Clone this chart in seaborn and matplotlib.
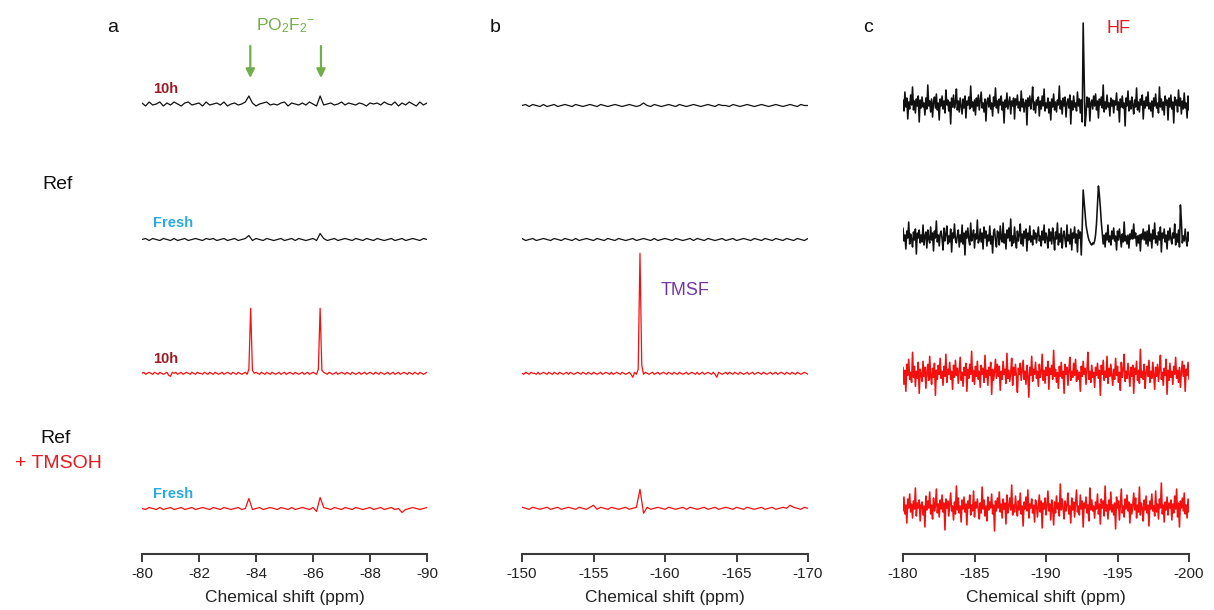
import numpy as np
import pandas as pd
import matplotlib
matplotlib.use("Agg")
import matplotlib.pyplot as plt
import seaborn as sns

# ------------------------------------------------------------------ data
# x-axis ranges (ppm) and tick labels
range_a = (-80, -90)
range_b = (-150, -170)
range_c = (-180, -200)
ticks_a = [-80, -82, -84, -86, -88, -90]
ticks_b = [-150, -155, -160, -165, -170]
ticks_c = [-180, -185, -190, -195, -200]
tick_labels_a = ["-80", "-82", "-84", "-86", "-88", "-90"]
tick_labels_b = ["-150", "-155", "-160", "-165", "-170"]
tick_labels_c = ["-180", "-185", "-190", "-195", "-200"]

# panel a : intensities along the ppm range, plus (ppm, intensity) peak points
a_black_10h = [1, -2, 2, -1, 0, 2, -2, 1, -1, 2,
               0, -2, 1, 2, -1, 0, 1, -2, 2, -1,
               0, 1, -1, 2, -2, 0, 1, -1, 0, 2,
               -1, 1, -2, 0, 1, 2, -1, 0, -1, 1,
               2, -2, 1, 0, -1, 1, -1, 2, 0, -2,
               1, -1, 0, 1, -1, 0, 2, -1, 1, 0,
               -1, 1, 0, -2, 1, 0, 1, -1, 2, 0,
               -1, 2, -2, 1, -1, 2, 0, -2, 2, -1,
               1]
a_black_10h_peaks = [(-83.8, 8), (-86.25, 8)]

a_black_fresh = [0, 1, -1, 1, 0, -1, 1, 0, -1, 1,
                 -1, 0, 1, -1, 0, 1, 0, -1, 1, 0,
                 1, -1, 0, 1, -1, 0, 1, -1, 0, 1,
                 0, -1, 1, 0, -1, 1, 0, -1, 0, 1,
                 -1, 0, 1, -1, 1, 0, -1, 0, 1, -1,
                 0, 1, -1, 0, 1, -1, 0, 1, 0, -1,
                 1, 0, -1, 1, 0, -1, 1, 0, -1, 0,
                 1, -1, 0, 1, -1, 0, 1, 0, -1, 1,
                 0]
a_black_fresh_peaks = [(-83.8, 4), (-86.25, 6)]

a_red_10h = [0, 1, -1, 0, 1, 0, -1, 1, 0, -1, 1, 0, -1, 0, 1, -2, -3, 1, 0, 1,
             -1, 0, 1, -1, 0, 1, 0, -1, 1, 0, -1, 1, 0, 0, -1, 1, 0, -1, 1, 0,
             -1, 1, 0, -1, 0, 1, -1, 0, 1, 0, -1, 1, 0, -1, 1, 0, -1, 0, 1, -1,
             0, 1, -1, 0, 1, 0, -1, 1, 0, -1, 1, 0, -1, 1, 0, -1, 0, 1, -1, 0,
             1, -1, 0, 1, 0, -1, 1, 0, -1, 0, 1, -1, 0, 1, -1, 0, 1, 0, -1, 1,
             0, -1, 1, 0, -1, 1, 0, -1, 0, 1, -1, 0, 1, 0, -1, 1, 0, -1, 1, 0,
             -1, 0, 1, -1, 0, 1, -1, 0, 1, 0, -1, 1, 0, -1, 1, 0, -1, 0, 1, -1,
             0, 1, -1, 0, 1, -1, 0, 1, 0, -1, 1, 0, -1, 1, 0, -1, 1, 0, -1, 0,
             1]
a_red_10h_peaks = [(-83.8, 65), (-83.75, 4), (-83.875, 3),
                   (-86.25, 65), (-86.1875, 4), (-86.3125, 3)]

a_red_fresh = [0, -1, 1, 0, -1, 1, -1, 0, 1, -1,
               0, 1, -1, 0, 1, -1, 0, 1, 0, -1,
               1, 0, -1, 1, 0, -1, 0, 1, -1, 0,
               1, -1, 0, 1, -1, 0, 1, 0, -1, 1,
               0, -1, 1, -1, 0, 1, 0, -1, 1, 0,
               -1, 1, 0, -1, 1, 0, -1, 1, 0, -1,
               1, 0, -1, 0, 1, -1, 0, 1, -1, 0,
               1, -1, 0, 1, -1, 0, 1, 0, -1, 0,
               1]
a_red_fresh_peaks = [(-83.8, 10), (-86.25, 11), (-86.1, -3), (-89.1, -4)]

# panel b
b_black_10h = [0, 1, -1, 1, 0, -1, 1, -1, 0, 1,
               -1, 0, 1, 0, -1, 1, 0, -1, 0, 1,
               0, -1, 1, 0, -1, 0, 1, 0, -1, 0,
               1, 0, -1, 0, 1, 0, -1, 1, 0, -1,
               0, 1, 0, -1, 1, 0, -1, 0, 1, 0,
               -1, 0, 1, 0, -1, 1, 0, 0, -1, 1,
               0, -1, 0, 1, 0, -1, 0, 1, 0, -1,
               0, 1, 0, -1, 0, 1, 0, -1, 1, 0,
               0]
b_black_10h_peaks = [(-158.5, 2.5)]

b_black_fresh = [1, -1, 0, 1, -1, 0, 1, 0, -1, 1,
                 0, -1, 1, 0, -1, 1, -1, 0, 1, 0,
                 -1, 1, 0, -1, 1, 0, -1, 1, 0, -1,
                 0, 1, -1, 0, 1, 0, -1, 1, -1, 0,
                 1, 0, -1, 1, 0, -1, 0, 1, -1, 1,
                 0, -1, 1, 0, -1, 0, 1, -1, 0, 1,
                 -1, 0, 1, 0, -1, 1, 0, -1, 1, 0,
                 -1, 1, 0, -1, 1, 0, -1, 1, 0, -1,
                 1]
b_black_fresh_peaks = []

b_red_10h = [0, -1, 1, 0, -1, 1, 0, 0, -1, 1, -1, 0, 1, 0, -1, 1, 0, -1, 1, 0,
             -1, 1, 0, -1, 0, 1, -1, 1, 0, -1, 0, 1, 0, -1, 1, 0, -1, 1, 0, -1,
             1, 0, -1, 0, 1, -1, 0, 1, 0, -1, 1, -1, 0, 1, 0, -1, 1, 0, -1, 0,
             1, -1, 0, 1, -1, 0, 1, 0, -1, 1, 0, -1, 0, 1, -1, 0, 1, -1, 0, 1,
             0, -1, 1, 0, -1, 1, 0, -1, 1, 0, -1, 0, 1, -1, 0, 1, 0, -1, 1, -1,
             0, 1, -1, 0, 1, 0, -1, 1, -1, 0, 1, 0, -1, 0, 1, -1, 1, 0, -1, 1,
             0, -1, 1, 0, -1, 0, 1, -1, 0, 1, -1, 0, 1, 0, -1, 1, 0, -1, 0, 1,
             -1, 0, 1, -1, 0, 1, 0, -1, 1, 0, -1, 1, 0, -1, 1, 0, -1, 0, 1, 0,
             -1]
b_red_10h_peaks = [(-158.25, 120), (-158.375, 8), (-158.125, 4),
                   (-157.75, -4), (-163.6, -4)]

b_red_fresh = [1, 0, -1, 1, 0, -1, 0, 1, -1, 0,
               1, -1, 0, 1, 0, -1, 1, 0, -1, 1,
               0, -1, 1, 0, -1, 1, 0, -1, 0, 1,
               -1, 0, 1, -1, 0, 1, -1, 0, 1, 0,
               -1, 1, 0, -1, 0, 1, -1, 1, 0, -1,
               0, 1, -1, 0, 1, -1, 0, 1, 0, -1,
               1, 0, -1, 1, 0, -1, 0, 1, -1, 0,
               1, -1, 0, 1, 0, -1, 1, 0, -1, 1,
               0]
b_red_fresh_peaks = [(-158.25, 19), (-158.5, -5), (-155.0, 3), (-168.8, 3)]

# panel c
c_black_10h = [4, -7, 12, -3, 6, -15, 2, -5, 9, -1, 17, -6, 3, -9, 5, -2, 8, -18, 4, -4,
               7, -3, 1, -11, 6, -5, 19, -2, 3, -8, 5, -13, 2, 7, -4, 10, -6, 1, -16, 5,
               -2, 8, -5, 3, -9, 14, -1, 4, -7, 2, -20, 6, -3, 9, -4, 1, 15, -6, 3, -8,
               6, -2, -10, 5, -4, 8, -14, 3, -1, 7, -5, 18, -3, 2, -7, 4, -11, 6, -2, 9,
               -6, 3, 12, -4, 1, -8, 5, -17, 2, 6, -3, 9, -5, 1, -12, 7, -2, 16, -4, 3,
               -9, 5, -1, 8, -6, 2, -19, 4, -3, 11, -5, 1, 7, -10, 3, -2, 6, -15, 5, -1,
               9, -4, 2, -7, 13, -3, 5, -8, 1, 4, -21, 6, -2, 8, -5, 3, 17, -6, 2, -9,
               4, -1, 7, -12, 3, -5, 8, -2, 15, -7, 1, -4, 6, -9, 2, -16, 5, -3, 10, -6,
               2, -8, 4, -1, 18, -5, 3, -10, 6, -2, 7, -13, 1, 5, -4, 9, -20, 3, -6, 8,
               -3, 1, -7, 12, -2, 5, -9, 4, -1, 14, -6, 2, -11, 7, -3, 6, -17, 1, 4, -5,
               8, -2, 10, -6, 3, -14, 5, -1, 7, -4, 19, -8, 2, -5, 9, -3, 1, -12, 6, -2,
               4, -9, 3, -1, 11, -6, 2, -18, 5, -3, 8, -4, 1, -22, 6, -2, 13, -7, 3, -5,
               7, -1, -10, 4, -3, 16, -6, 2, -8, 5, -1, 9, -15, 3, -4, 7, -2, 12, -5, 1,
               -7, 3, -13, 6, -2, 10, -4, 1, -9, 17, -3, 5, -6, 2, -11, 8, -1, 4, -16, 6,
               -3, 9, -5, 2, -19, 7, -1, 4, -8, 14, -2, 6, -10, 3, -5, 11, -4, 1, -14, 8,
               -6]
c_black_10h_peaks = [(-192.53, -18), (-192.6, 81), (-192.67, 30), (-192.73, -22)]

c_black_fresh = [9, -4, 2, -12, 6, -1, 15, -7, 3, -2, -10, 5, -3, 8, -17, 4, -1, 7, -6, 2,
                 -5, 12, -8, 1, 5, -11, 7, -2, -6, 10, -3, 4, -14, 6, -1, 16, -5, 2, -9, 3,
                 6, -2, -13, 9, -4, 3, 11, -7, 1, -5, 8, -15, 4, -1, 13, -3, -6, 2, 7, -10,
                 2, -5, 12, -7, 4, -18, 6, -1, 9, -3, -8, 14, -4, 1, 7, -11, 3, -2, 17, -6,
                 -3, 8, -5, 4, -12, 10, -1, 6, -9, 2, -4, 11, -7, 1, -16, 5, 8, -3, -10, 6,
                 4, -8, 11, -2, -5, 14, -6, 3, -12, 7, -1, 9, -4, 18, -9, 1, -6, 10, -3, -11,
                 6, -4, 2, 13, -7, 3, -9, 6, -1, 8, -14, 4, -3, 11, -5, 1, -8, 7, -2, 4,
                 -6, 2, 10, -4, 1, -9, 6, -3, 12, -6, 4, -1, -11, 8, -4, 5, -7, 9, -1, -13,
                 5, -2, 14, -8, 3, -5, 9, -11, 1, 6, -3, -10, 12, -4, 2, -7, 8, -13, 4, -1,
                 10, -6, 3, -15, 7, -1, 5, -9, 13, -4, 1, -7, 9, -3, -12, 6, -5, 16, -8, 2,
                 -4, 7, -2, 11, -6, 3, -16, 5, -1, 9, -7, 2, -10, 4, -3, 12, -5, 1, -8, 6,
                 -2, 9, -4, 1, -13, 6, -3, 8, -1, -10, 3, -5, 15, -4, 1, -7, 2, -11, 3, -2,
                 7, -2, 13, -1, 4, -9, 1, -6, 2, -14, 3, -2, 8, -3, 5, -7, 6, -9, 12, -4,
                 3, -11, 7, -2, 14, -6, 1, -8, 5, -3, 10, -15, 4, -1, 8, -5, 2, -12, 6, -3,
                 9, -2, -7, 4, -1, 13, -8, 3, -5, 7, -10, 2, 16, -6, 1, -4, 8, -3, -9, 5,
                 -4]
c_black_fresh_peaks = [(-192.47, -18), (-192.53, 10), (-192.6, 47), (-192.67, 35),
                       (-192.73, 22), (-192.8, 12), (-192.87, 6), (-192.93, 1),
                       (-193.0, -3), (-193.07, -5), (-193.13, -7), (-193.2, -8),
                       (-193.27, -6), (-193.33, -7), (-193.4, -4), (-193.47, 2),
                       (-193.53, 14), (-193.6, 32), (-193.67, 51), (-193.73, 42),
                       (-193.8, 30), (-193.87, 15), (-193.93, 4), (-199.4, 32)]

c_red_10h = [6, -11, 3, -18, 9, -2, 14, -6, 1, -9, 21, -4, 7, -13, 2, -5, 11, -20, 4, -1,
             -8, 12, -3, 6, -15, 1, 9, -7, 17, -2, -11, 5, -4, 10, -22, 3, -6, 8, -1, 15,
             -5, 2, -12, 7, -3, 19, -9, 4, -1, 11, -6, 2, -16, 8, -4, 13, -2, 5, -10, 3,
             16, -7, 1, -13, 6, -2, 10, -18, 4, -5, 9, -1, 22, -8, 3, -11, 7, -3, 12, -6,
             2, -14, 8, -1, 5, -9, 18, -4, 3, -12, 6, -2, 11, -21, 4, -7, 1, 14, -5, 9,
             -3, 7, -17, 2, -6, 12, -1, 4, -10, 20, -5, 3, -8, 1, 15, -12, 6, -2, 9, -4,
             -19, 5, -1, 10, -7, 3, 13, -6, 2, -11, 8, -3, -24, 6, -2, 17, -8, 4, -1, 11,
             -5, 2, -13, 9, -4, 1, 19, -7, 3, -10, 6, -2, 12, -16, 5, -1, 8, -6, 23, -3,
             4, -9, 1, -15, 7, -3, 11, -5, 2, -20, 9, -1, 6, -12, 3, 16, -7, 2, -4, 10,
             -2, 14, -8, 3, -6, 1, -18, 7, -3, 12, -1, 5, -11, 4, 21, -6, 2, -9, 8, -4,
             1, -14, 6, -2, 10, -5, 3, -22, 8, -1, 13, -7, 2, -4, 17, -10, 5, -3, 9, -1,
             -12, 4, -6, 15, -2, 7, -9, 1, -17, 11, -4, 3, 19, -8, 2, -5, 10, -1, -13, 6,
             -3, 8, -20, 5, -1, 12, -7, 3, -10, 24, -4, 2, -6, 9, -15, 1, 7, -3, 13, -9,
             2, -5, 11, -1, -16, 6, -3, 9, -8, 4, 18, -6, 1, -12, 5, -2, 14, -21, 3, -7,
             10, -4, 2, -11, 7, -1, 16, -5, 3, -9, 6, -14, 1, 12, -3, 8, -18, 4, -2, 11,
             -6]
c_red_10h_peaks = []

c_red_fresh = [-4, 10, -7, 2, -16, 8, -1, 13, -5, 3, -11, 6, -2, 19, -9, 4, -1, 7, -14, 2,
               5, -8, 1, -20, 11, -3, 6, -1, 15, -7, 2, -12, 9, -4, 1, 18, -6, 3, -10, 7,
               -2, 12, -5, 4, -23, 8, -1, 6, -9, 2, 14, -4, 1, -13, 5, -7, 21, -3, 9, -6,
               1, -15, 7, -2, 10, -5, 3, -18, 6, -1, 12, -8, 2, -4, 16, -10, 5, -1, 8, -3,
               -12, 4, -6, 20, -2, 7, -9, 1, -14, 10, -3, 5, -1, 13, -7, 2, -24, 6, -4, 9,
               -1, 15, -5, 3, -11, 8, -2, 4, -17, 12, -6, 1, 9, -3, 22, -8, 2, -5, 11, -1,
               -9, 6, -3, 14, -7, 1, -19, 5, -2, 10, -4, 17, -11, 3, -1, 8, -6, 2, -15, 7,
               3, -10, 1, 12, -5, 6, -21, 4, -2, 9, -8, 1, 16, -4, 3, -13, 7, -1, -18, 5,
               -6, 11, -2, 4, -9, 23, -3, 8, -1, -12, 6, -4, 2, 14, -7, 1, -16, 9, -3, 5,
               -10, 3, 17, -5, 1, -8, 12, -2, 6, -20, 4, -1, 10, -6, 2, -14, 19, -3, 7, -4,
               1, -11, 5, -2, 13, -7, 3, -17, 8, -1, 6, -9, 21, -4, 2, -12, 7, -3, 15, -5,
               2, -8, 4, -22, 10, -1, 6, -13, 3, 18, -6, 1, -10, 8, -2, 12, -4, 5, -16, 3,
               -7, 1, 14, -3, 9, -11, 2, -5, 20, -8, 4, -1, -14, 7, -3, 11, -6, 2, -19, 6,
               -2, 13, -4, 1, -9, 16, -5, 3, -12, 8, -1, 24, -7, 2, -15, 5, -3, 10, -8, 4,
               -1, 7, -13, 3, -6, 11, -2, 18, -10, 4, -20, 6, -1, 9, -4, 14, -7, 2, -11, 8,
               -5]
c_red_fresh_peaks = []

# ------------------------------------------------------------------ style
W, H = 1214, 610
sns.set_style("white")
plt.rcParams["font.family"] = ["Liberation Sans", "DejaVu Sans"]
plt.rcParams["mathtext.fontset"] = "custom"
plt.rcParams["mathtext.rm"] = "Liberation Sans"
plt.rcParams["mathtext.it"] = "Liberation Sans:italic"

BLACK = "#111111"
RED = "#f51010"
DARKRED = "#9c1a22"
BLUE = "#2aa8e0"
GREEN = "#72ae48"
PURPLE = "#7236a4"
LABELRED = "#e6191f"


def build(xr, noise, feats):
    x = np.linspace(xr[0], xr[1], len(noise))
    y = np.array(noise, dtype=float)
    for pos, val in feats:
        y[np.argmin(np.abs(x - pos))] = val
    return x, y


fig = plt.figure(figsize=(W / 100, H / 100), dpi=100)


def px_axes(x0, x1):
    bottom = (H - 554) / H
    return fig.add_axes([x0 / W, bottom, (x1 - x0) / W, 1 - bottom])


panels = [
    (px_axes(142, 427), range_a, ticks_a, tick_labels_a, 0.9, [
        (a_black_10h, a_black_10h_peaks, 506, BLACK),
        (a_black_fresh, a_black_fresh_peaks, 370.5, BLACK),
        (a_red_10h, a_red_10h_peaks, 236.7, RED),
        (a_red_fresh, a_red_fresh_peaks, 101.5, RED)]),
    (px_axes(522, 808), range_b, ticks_b, tick_labels_b, 0.9, [
        (b_black_10h, b_black_10h_peaks, 504.5, BLACK),
        (b_black_fresh, b_black_fresh_peaks, 370.5, BLACK),
        (b_red_10h, b_red_10h_peaks, 236.7, RED),
        (b_red_fresh, b_red_fresh_peaks, 101.7, RED)]),
    (px_axes(903, 1189), range_c, ticks_c, tick_labels_c, 1.15, [
        (c_black_10h, c_black_10h_peaks, 506, BLACK),
        (c_black_fresh, c_black_fresh_peaks, 373, BLACK),
        (c_red_10h, c_red_10h_peaks, 236.7, RED),
        (c_red_fresh, c_red_fresh_peaks, 103, RED)]),
]

for ax, xr, ticks, tlabels, lw, traces in panels:
    for noise, feats, offset, col in traces:
        x, y = build(xr, noise, feats)
        df = pd.DataFrame({"ppm": x, "intensity": y + offset})
        sns.lineplot(data=df, x="ppm", y="intensity", ax=ax, color=col,
                     linewidth=lw, estimator=None, sort=False, legend=False)
    ax.set_xlim(xr[0], xr[1])
    ax.set_ylim(H - 554, H)
    ax.set_xticks(ticks)
    ax.set_xticklabels(tlabels)
    ax.set_yticks([])
    ax.set_ylabel("")
    ax.set_xlabel("Chemical shift (ppm)", fontsize=12.5, color="#222222", labelpad=7)
    for s in ["top", "right", "left"]:
        ax.spines[s].set_visible(False)
    ax.spines["bottom"].set_color("#3a3a3a")
    ax.spines["bottom"].set_linewidth(1.5)
    ax.tick_params(axis="x", direction="out", length=6, width=1.4, color="#3a3a3a",
                   labelsize=11, labelcolor="#222222", pad=3, bottom=True)
    ax.patch.set_alpha(0)

ax_a = panels[0][0]
for xp in (-83.8, -86.28):
    ax_a.annotate("", xy=(xp, H - 78), xytext=(xp, H - 46),
                  arrowprops=dict(arrowstyle="-|>", color=GREEN, lw=1.6,
                                  mutation_scale=13, shrinkA=0, shrinkB=0))


def ftext(x, y, s, **kw):
    fig.text(x / W, 1 - y / H, s, **kw)


ftext(113, 32, "a", fontsize=14, ha="center", va="baseline", color="#111111")
ftext(495, 32, "b", fontsize=14, ha="center", va="baseline", color="#111111")
ftext(868, 32, "c", fontsize=14, ha="center", va="baseline", color="#111111")
ftext(286, 30, r"PO$_\mathregular{2}$F$_\mathregular{2}$$^\mathregular{-}$", fontsize=12.5,
      ha="center", va="baseline", color=GREEN)
ftext(153, 93, "10h", fontsize=10.5, fontweight="bold", ha="left", va="baseline", color=DARKRED)
ftext(153, 227, "Fresh", fontsize=10.5, fontweight="bold", ha="left", va="baseline", color=BLUE)
ftext(153, 363, "10h", fontsize=10.5, fontweight="bold", ha="left", va="baseline", color=DARKRED)
ftext(153, 498, "Fresh", fontsize=10.5, fontweight="bold", ha="left", va="baseline", color=BLUE)
ftext(57.5, 189, "Ref", fontsize=14, ha="center", va="baseline", color="#111111")
ftext(55.5, 443, "Ref", fontsize=14, ha="center", va="baseline", color="#111111")
ftext(58, 468, "+ TMSOH", fontsize=14, ha="center", va="baseline", color=LABELRED)
ftext(661, 295, "TMSF", fontsize=13, ha="left", va="baseline", color=PURPLE)
ftext(1107, 33, "HF", fontsize=13, ha="left", va="baseline", color=LABELRED)

fig.savefig("out.png", dpi=100)
